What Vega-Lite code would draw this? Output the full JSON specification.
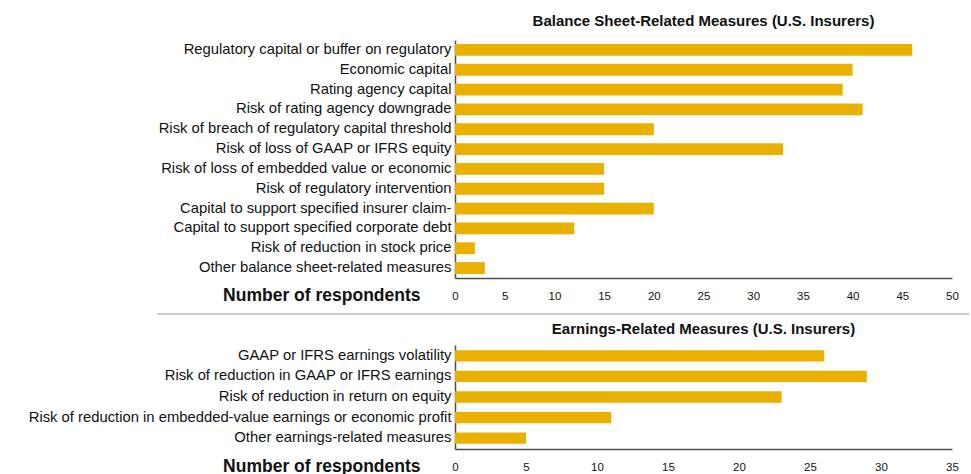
{
  "$schema": "https://vega.github.io/schema/vega-lite/v6.json",
  "padding": {"left": 28, "top": 14, "right": 5, "bottom": 5},
  "spacing": 7,
  "config": {
    "font": "Liberation Sans",
    "view": {"stroke": null},
    "title": {"fontSize": 15, "fontWeight": "bold", "color": "#111111", "anchor": "middle", "offset": 8},
    "axis": {
      "grid": false,
      "domainColor": "#4d4d4d",
      "domainWidth": 1.5,
      "ticks": false,
      "labelColor": "#111111",
      "labelFont": "Liberation Sans",
      "titleFont": "Liberation Sans",
      "titleColor": "#111111"
    },
    "axisY": {"labelFontSize": 14.8, "labelLimit": 600, "labelPadding": 4, "title": null},
    "axisX": {"labelFontSize": 11.5, "labelPadding": 12, "labelFlush": false, "titleFontSize": 17.5, "titleFontWeight": "bold", "titleAlign": "right", "titleBaseline": "middle", "titleX": -35}
  },
  "vconcat": [
    {
      "title": {"text": "Balance Sheet-Related Measures (U.S. Insurers)", "offset": 11},
      "width": 497,
      "height": 238,
      "layer": [
        {
          "data": {"values": [
            {"measure": "Regulatory capital or buffer on regulatory", "respondents": 46},
            {"measure": "Economic capital", "respondents": 40},
            {"measure": "Rating agency capital", "respondents": 39},
            {"measure": "Risk of rating agency downgrade", "respondents": 41},
            {"measure": "Risk of breach of regulatory capital threshold", "respondents": 20},
            {"measure": "Risk of loss of GAAP or IFRS equity", "respondents": 33},
            {"measure": "Risk of loss of embedded value or economic", "respondents": 15},
            {"measure": "Risk of regulatory intervention", "respondents": 15},
            {"measure": "Capital to support specified insurer claim-", "respondents": 20},
            {"measure": "Capital to support specified corporate debt", "respondents": 12},
            {"measure": "Risk of reduction in stock price", "respondents": 2},
            {"measure": "Other balance sheet-related measures", "respondents": 3}
          ]},
          "mark": {"type": "bar", "color": "#EAB000"},
          "encoding": {
            "y": {"field": "measure", "type": "nominal", "sort": null, "scale": {"paddingInner": 0.4, "paddingOuter": 0.2}},
            "x": {"field": "respondents", "type": "quantitative", "scale": {"domain": [0, 50]},
                  "axis": {"title": "Number of respondents", "values": [0, 5, 10, 15, 20, 25, 30, 35, 40, 45, 50], "titleY": 17}}
          }
        },
        {
          "data": {"values": [{}]},
          "mark": {"type": "rule", "color": "#c8c8c8", "strokeWidth": 2},
          "encoding": {
            "x": {"datum": -29.9},
            "x2": {"datum": 51.7},
            "y": {"value": 274}
          }
        }
      ]
    },
    {
      "title": "Earnings-Related Measures (U.S. Insurers)",
      "width": 497,
      "height": 104,
      "data": {"values": [
        {"measure": "GAAP or IFRS earnings volatility", "respondents": 26},
        {"measure": "Risk of reduction in GAAP or IFRS earnings", "respondents": 29},
        {"measure": "Risk of reduction in return on equity", "respondents": 23},
        {"measure": "Risk of reduction in embedded-value earnings or economic profit", "respondents": 11},
        {"measure": "Other earnings-related measures", "respondents": 5}
      ]},
      "mark": {"type": "bar", "color": "#EAB000"},
      "encoding": {
        "y": {"field": "measure", "type": "nominal", "sort": null, "scale": {"paddingInner": 0.45, "paddingOuter": 0.25}},
        "x": {"field": "respondents", "type": "quantitative", "scale": {"domain": [0, 35]},
              "axis": {"title": "Number of respondents", "values": [0, 5, 10, 15, 20, 25, 30, 35], "titleY": 17}}
      }
    }
  ]
}
